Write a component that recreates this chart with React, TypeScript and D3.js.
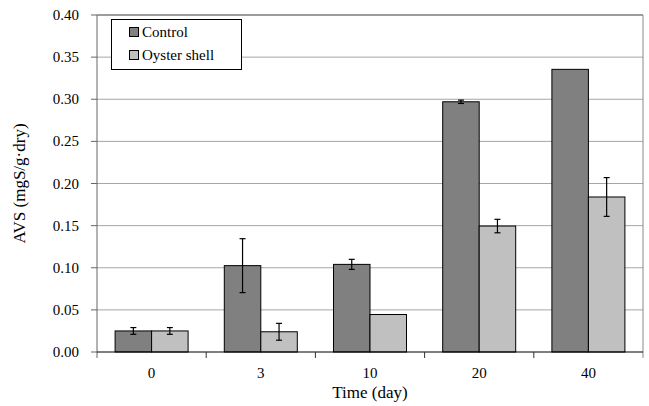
import React from "react";
import * as d3 from "d3";

// chart data
const days = ["0", "3", "10", "20", "40"];
const control = [0.025, 0.1025, 0.104, 0.297, 0.3355];
const controlErr = [0.004, 0.032, 0.006, 0.002, 0];
const oyster = [0.025, 0.024, 0.0445, 0.1495, 0.184];
const oysterErr = [0.004, 0.01, 0, 0.008, 0.023];
const yTicks = [0, 0.05, 0.1, 0.15, 0.2, 0.25, 0.3, 0.35, 0.4];
const seriesNames = ["Control", "Oyster shell"];
const seriesColors = ["#808080", "#c0c0c0"];

const FONT = '"Liberation Serif", "Times New Roman", Tinos, serif';

export default function App() {
  const left = 97, right = 643, top = 15, bottom = 352;
  const x = d3.scaleBand().domain(days).range([left, right]).paddingInner(0).paddingOuter(0);
  const y = d3.scaleLinear().domain([0, 0.4]).range([bottom, top]);
  const bw = 36.5;
  const fmt = d3.format(".2f");
  const series = [control, oyster];
  const errs = [controlErr, oysterErr];
  const barX = (i: number, si: number) => x(days[i])! + x.bandwidth() / 2 - bw + si * bw;

  return (
    <svg width={649} height={406} style={{ position: "absolute", left: 0, top: 0, background: "#fff" }}>
      {/* gridlines */}
      {yTicks.slice(1).map(t => (
        <line key={t} x1={left} x2={right} y1={y(t)} y2={y(t)} stroke="#a6a6a6" />
      ))}
      <line x1={left} x2={right} y1={top} y2={top} stroke="#666" />
      <line x1={right} x2={right} y1={top} y2={bottom + 6} stroke="#8a8a8a" />

      {/* bars */}
      {series.map((vals, si) => vals.map((v, i) => (
        <rect key={`${si}-${i}`} x={barX(i, si)} y={y(v)} width={bw} height={bottom - y(v)}
          fill={seriesColors[si]} stroke="#000" strokeWidth={1} />
      )))}

      {/* error bars */}
      {series.map((vals, si) => vals.map((v, i) => {
        const e = errs[si][i];
        if (!e) return null;
        const cx = barX(i, si) + bw / 2;
        return (
          <g key={`e${si}-${i}`} stroke="#000" strokeWidth={1.2}>
            <line x1={cx} x2={cx} y1={y(v + e)} y2={y(v - e)} />
            <line x1={cx - 3} x2={cx + 3} y1={y(v + e)} y2={y(v + e)} />
            <line x1={cx - 3} x2={cx + 3} y1={y(v - e)} y2={y(v - e)} />
          </g>
        );
      }))}

      {/* y axis */}
      <line x1={left} x2={left} y1={top} y2={bottom + 6} stroke="#666" />
      {yTicks.map(t => (
        <g key={t}>
          <line x1={left - 6} x2={left} y1={y(t)} y2={y(t)} stroke="#666" />
          <text x={left - 18} y={y(t) + 5} textAnchor="end"
            style={{ fontFamily: FONT, fontSize: 15 }}>{fmt(t)}</text>
        </g>
      ))}

      {/* x axis */}
      <line x1={left} x2={right} y1={bottom} y2={bottom} stroke="#000" strokeWidth={1.2} />
      {days.slice(1).map(d => (
        <line key={d} x1={x(d)!} x2={x(d)!} y1={bottom} y2={bottom + 6} stroke="#333" />
      ))}
      {days.map(d => (
        <text key={d} x={x(d)! + x.bandwidth() / 2} y={bottom + 26} textAnchor="middle"
          style={{ fontFamily: FONT, fontSize: 15 }}>{d}</text>
      ))}

      {/* titles */}
      <text x={370} y={398} textAnchor="middle" style={{ fontFamily: FONT, fontSize: 17 }}>Time (day)</text>
      <text transform={`translate(25,${(top + bottom) / 2}) rotate(-90)`} textAnchor="middle"
        style={{ fontFamily: FONT, fontSize: 17 }}>AVS (mgS/g·dry)</text>

      {/* legend */}
      <rect x={111.5} y={19.5} width={130} height={50} fill="#fff" stroke="#000" />
      {seriesNames.map((name, i) => (
        <g key={name}>
          <rect x={129.5} y={27.5 + i * 23} width={9} height={9} fill={seriesColors[i]} stroke="#000" />
          <text x={142} y={37 + i * 23} style={{ fontFamily: FONT, fontSize: 15 }}>{name}</text>
        </g>
      ))}
    </svg>
  );
}
